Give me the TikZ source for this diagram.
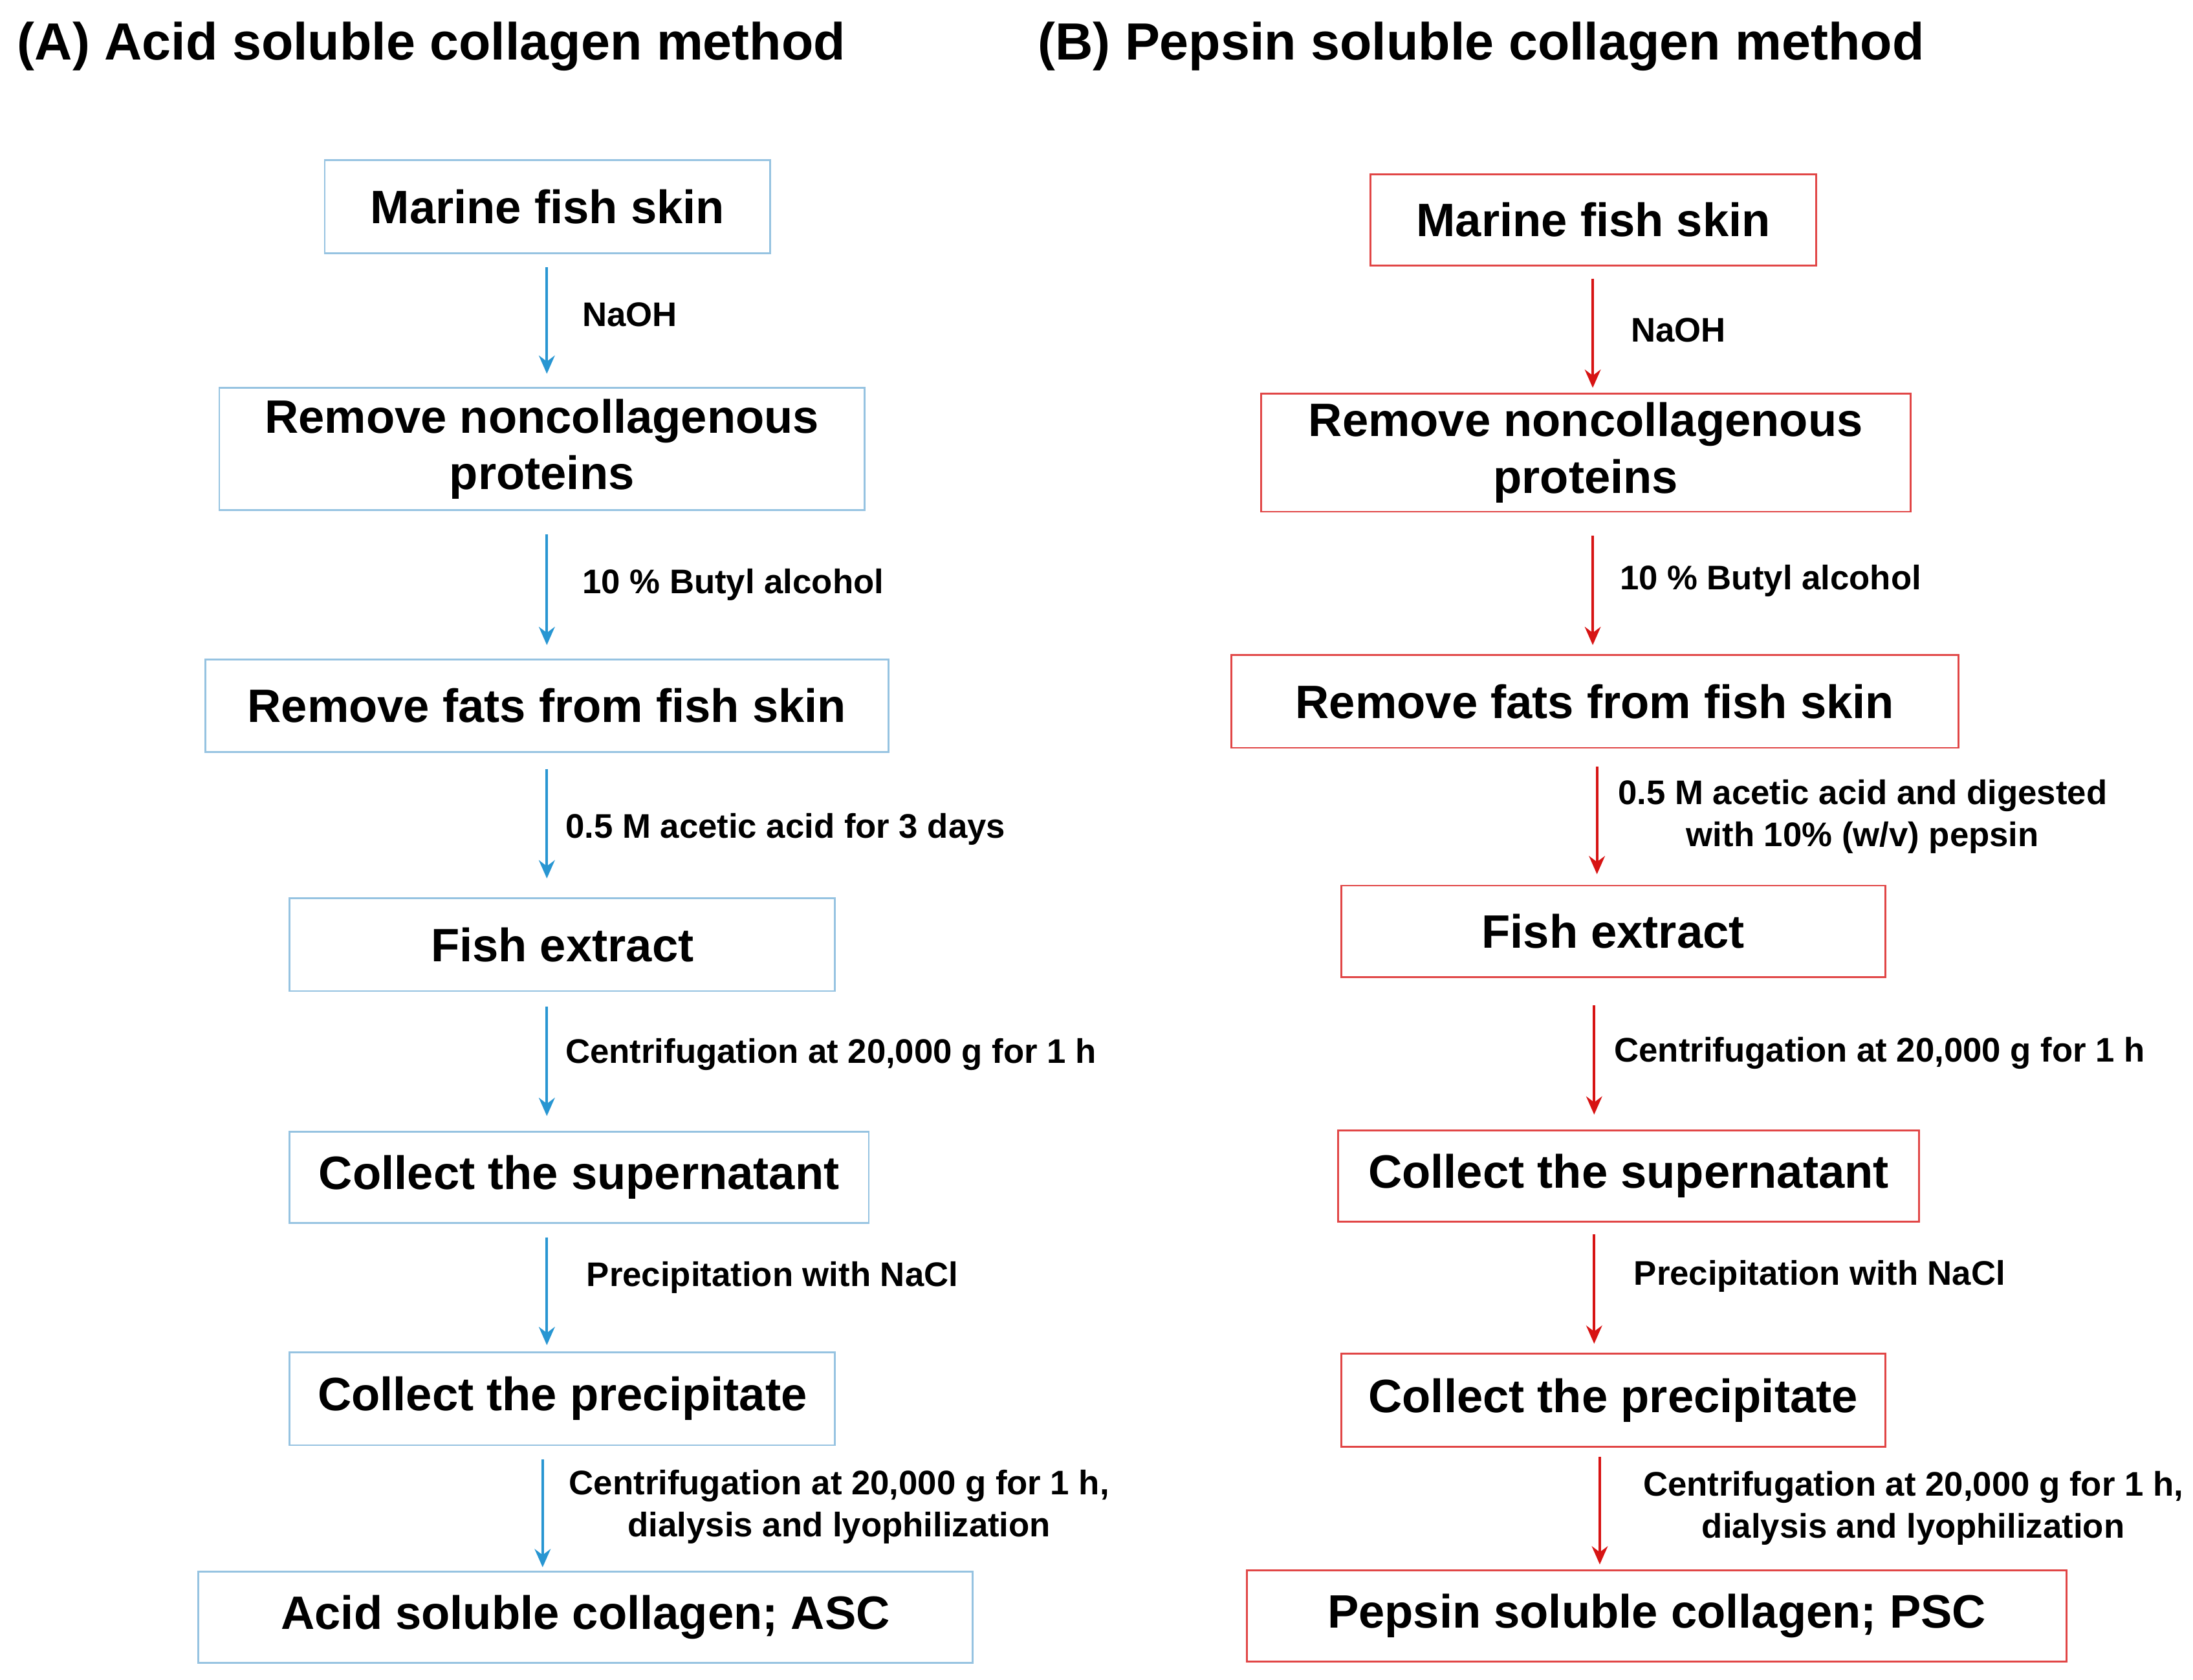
\documentclass[tikz,border=0pt]{standalone}
\usepackage{fontspec}
\setmainfont{Liberation Sans}
\usetikzlibrary{arrows.meta}
\definecolor{bline}{RGB}{150,195,225}
\definecolor{barr}{RGB}{40,150,210}
\definecolor{rline}{RGB}{225,70,70}
\definecolor{rarr}{RGB}{215,20,20}
\begin{document}
\begin{tikzpicture}[x=0.02173cm,y=-0.02173cm,
  box/.style={draw,line width=0.8pt,inner sep=0pt,align=center,font=\fontsize{20.6}{25}\selectfont\bfseries},
  bbox/.style={box,draw=bline},
  rbox/.style={box,draw=rline},
  arr/.style={line width=1.2pt,-{Stealth[length=8pt,width=7pt]},shorten <=0.22cm,shorten >=0.22cm},
  barrow/.style={arr,draw=barr,fill=barr},
  rarrow/.style={arr,draw=rarr,fill=rarr},
  lab/.style={font=\fontsize{15}{18.5}\selectfont\bfseries,inner sep=0pt},
  title/.style={font=\fontsize{23}{27}\selectfont\bfseries,inner sep=0pt,anchor=west}]
\useasboundingbox (0,0) rectangle (1560,1195);
\node[title] (ta) at (12,33) {(A) Acid soluble collagen method};
\node[title] (tb) at (738,33) {(B) Pepsin soluble collagen method};
\newcommand{\bx}[7]{\node[#1,minimum width={(#4-#3)*0.02173cm},minimum height={(#6-#5)*0.02173cm}] (#2) at ({(#3+#4)/2},{(#5+#6)/2}) {#7};}
\bx{bbox}{a1}{231}{548}{114}{180}{Marine fish skin}
\bx{bbox}{a2}{156}{615}{276}{363}{Remove noncollagenous\\proteins}
\bx{bbox}{a3}{146}{632}{469}{535}{Remove fats from fish skin}
\bx{bbox}{a4}{206}{594}{639}{705}{Fish extract}
\bx{bbox}{a5}{206}{618}{805}{870}{Collect the supernatant}
\bx{bbox}{a6}{206}{594}{962}{1028}{Collect the precipitate}
\bx{bbox}{a7}{141}{692}{1118}{1183}{Acid soluble collagen; ASC}
\bx{rbox}{b1}{975}{1292}{124}{189}{Marine fish skin}
\bx{rbox}{b2}{897}{1359}{280}{364}{Remove noncollagenous\\proteins}
\bx{rbox}{b3}{876}{1393}{466}{532}{Remove fats from fish skin}
\bx{rbox}{b4}{954}{1341}{630}{695}{Fish extract}
\bx{rbox}{b5}{952}{1365}{804}{869}{Collect the supernatant}
\bx{rbox}{b6}{954}{1341}{963}{1029}{Collect the precipitate}
\bx{rbox}{b7}{887}{1470}{1117}{1182}{Pepsin soluble collagen; PSC}
\coordinate (pa1) at (389,180); \coordinate (qa1) at (389,276);
\coordinate (pa2) at (389,370); \coordinate (qa2) at (389,469);
\coordinate (pa3) at (389,537); \coordinate (qa3) at (389,635);
\coordinate (pa4) at (389,706); \coordinate (qa4) at (389,804);
\coordinate (pa5) at (389,870); \coordinate (qa5) at (389,967);
\coordinate (pa6) at (386,1028); \coordinate (qa6) at (386,1125);
\foreach \i in {1,...,6} \draw[barrow] (pa\i) -- (qa\i);
\coordinate (pb1) at (1133,188); \coordinate (qb1) at (1133,286);
\coordinate (pb2) at (1133,371); \coordinate (qb2) at (1133,469);
\coordinate (pb3) at (1136,535); \coordinate (qb3) at (1136,632);
\coordinate (pb4) at (1134,705); \coordinate (qb4) at (1134,803);
\coordinate (pb5) at (1134,868); \coordinate (qb5) at (1134,966);
\coordinate (pb6) at (1138,1026); \coordinate (qb6) at (1138,1123);
\foreach \i in {1,...,6} \draw[rarrow] (pb\i) -- (qb\i);
\node[lab,anchor=west] (la1) at (414,224) {NaOH};
\node[lab,anchor=west] (la2) at (414,416) {10 \% Butyl alcohol};
\node[lab,anchor=west] (la3) at (402,590) {0.5 M acetic acid for 3 days};
\node[lab,anchor=west] (la4) at (402,750) {Centrifugation at 20,000 g for 1 h};
\node[lab,anchor=west] (la5) at (417,909) {Precipitation with NaCl};
\node[lab,align=center] (la6) at (597,1072) {Centrifugation at 20,000 g for 1 h,\\dialysis and lyophilization};
\node[lab,anchor=west] (lb1) at (1160,235) {NaOH};
\node[lab,anchor=west] (lb2) at (1152,413) {10 \% Butyl alcohol};
\node[lab,align=center] (lb3) at (1325,581) {0.5 M acetic acid and digested\\with 10\% (w/v) pepsin};
\node[lab,anchor=west] (lb4) at (1148,749) {Centrifugation at 20,000 g for 1 h};
\node[lab,anchor=west] (lb5) at (1162,908) {Precipitation with NaCl};
\node[lab,align=center] (lb6) at (1361,1073) {Centrifugation at 20,000 g for 1 h,\\dialysis and lyophilization};
\end{tikzpicture}
\end{document}
